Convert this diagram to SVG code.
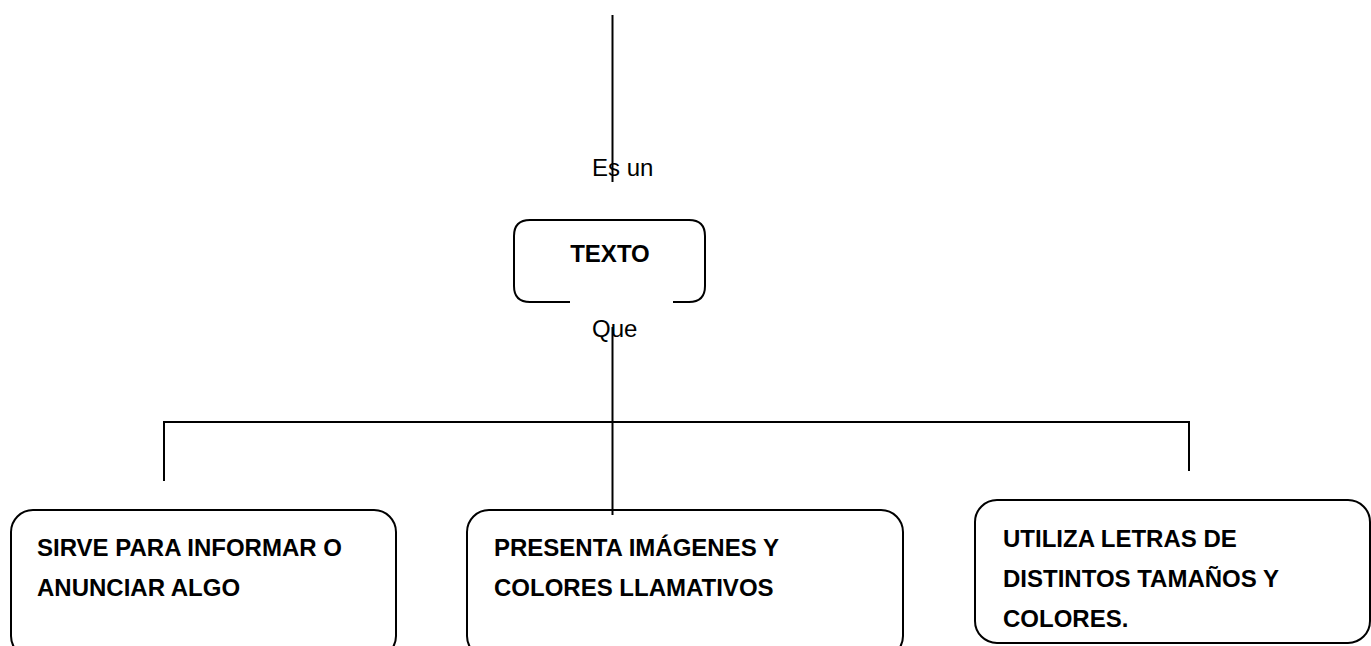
<svg xmlns="http://www.w3.org/2000/svg" width="1371" height="646" viewBox="0 0 1371 646">
<style>
.box{fill:none;stroke:#000;stroke-width:2}
.ln{fill:none;stroke:#000;stroke-width:2}
.t{font-family:"Liberation Sans",Arial,sans-serif;font-size:24px;font-weight:bold;fill:#000}
.lbl{font-family:"Liberation Sans",Arial,sans-serif;font-size:24px;fill:#000}
</style>
<rect width="1371" height="646" fill="#fff"/>
<g id="connectors">
<line class="ln" x1="612.5" y1="15" x2="612.5" y2="182"/>
<line class="ln" x1="612.5" y1="327" x2="612.5" y2="515"/>
<polyline class="ln" points="164,481 164,422 1189,422 1189,471"/>
</g>
<g id="label-esun"><text class="lbl" x="592" y="176">Es un</text></g>
<g id="node-texto">
<path class="box" d="M570,302 H530 Q514,302 514,286 V236 Q514,220 530,220 H689 Q705,220 705,236 V286 Q705,302 689,302 H673"/>
<text class="t" x="610" y="262" text-anchor="middle" font-size="23">TEXTO</text>
</g>
<g id="label-que"><text class="lbl" x="592" y="337">Que</text></g>
<g id="node-sirve">
<rect class="box" x="11" y="510" width="385" height="148" rx="22"/>
<text class="t" x="37" y="556">SIRVE PARA INFORMAR O</text>
<text class="t" x="37" y="596">ANUNCIAR ALGO</text>
</g>
<g id="node-presenta">
<rect class="box" x="467" y="510" width="436" height="148" rx="22"/>
<text class="t" x="494" y="556">PRESENTA IMÁGENES Y</text>
<text class="t" x="494" y="596">COLORES LLAMATIVOS</text>
</g>
<g id="node-utiliza">
<rect class="box" x="975" y="500" width="395" height="143" rx="22"/>
<text class="t" x="1003" y="547">UTILIZA LETRAS DE</text>
<text class="t" x="1003" y="587">DISTINTOS TAMAÑOS Y</text>
<text class="t" x="1003" y="627">COLORES.</text>
</g>
</svg>
